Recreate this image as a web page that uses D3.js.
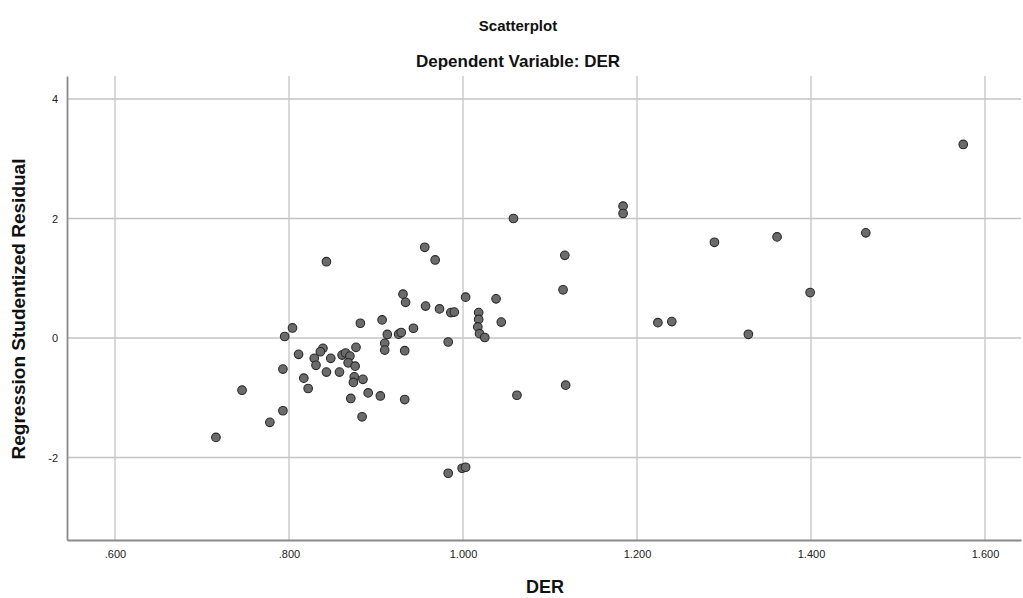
<!DOCTYPE html>
<html>
<head>
<meta charset="utf-8">
<script src="https://cdn.jsdelivr.net/npm/d3@7"></script>
<style>
  body { margin: 0; background: #fff; }
  text { font-family: "Liberation Sans", Arial, sans-serif; }
</style>
</head>
<body>
<svg id="chart" width="1023" height="598"></svg>
<script>
var width = 1023,
    height = 598;

var chartTitle = "Scatterplot",
    chartSubtitle = "Dependent Variable: DER",
    xTitle = "DER",
    yTitle = "Regression Studentized Residual";

var xTicks = [0.6, 0.8, 1.0, 1.2, 1.4, 1.6];
var yTicks = [4, 2, 0, -2];

// DER (x) and studentized residual (y)
var derVals = [
  1.575, 1.184, 1.184, 1.058, 0.956, 0.968, 1.117, 1.289, 1.361, 1.463,
  1.399, 1.115, 1.224, 1.240, 1.328, 1.118, 1.062, 0.983, 0.999, 1.003,
  0.716, 0.746, 0.778, 0.793, 0.793, 0.804, 0.795, 0.843, 0.882, 0.907,
  0.913, 0.910, 0.910, 0.811, 0.839, 0.836, 0.829, 0.831, 0.848, 0.861,
  0.865, 0.870, 0.868, 0.876, 0.877, 0.843, 0.858, 0.875, 0.885, 0.874,
  0.817, 0.822, 0.891, 0.905, 0.871, 0.884, 0.933, 0.931, 0.934, 0.957,
  0.973, 0.986, 0.990, 1.003, 1.038, 1.018, 1.018, 1.017, 1.019, 1.025,
  1.044, 0.943, 0.926, 0.929, 0.933, 0.983
];
var residVals = [
  3.239, 2.207, 2.084, 2.000, 1.518, 1.306, 1.383, 1.602, 1.692, 1.760,
  0.761, 0.807, 0.257, 0.274, 0.062, -0.790, -0.958, -2.264, -2.180, -2.163,
  -1.664, -0.874, -1.412, -1.218, -0.521, 0.168, 0.025, 1.277, 0.247, 0.303,
  0.059, -0.089, -0.202, -0.274, -0.173, -0.230, -0.341, -0.457, -0.341, -0.286,
  -0.252, -0.303, -0.415, -0.471, -0.156, -0.571, -0.571, -0.650, -0.692, -0.743,
  -0.672, -0.845, -0.919, -0.970, -1.012, -1.319, -1.030, 0.734, 0.597, 0.534,
  0.487, 0.425, 0.434, 0.684, 0.655, 0.425, 0.311, 0.185, 0.072, 0.008,
  0.266, 0.163, 0.064, 0.092, -0.213, -0.067
];

var margin = {top: 76, right: 2, bottom: 58, left: 67};

var svg = d3.select("#chart");

var x = d3.scaleLinear()
    .domain([0.5448, 1.6414])
    .range([margin.left, width - margin.right]);

var y = d3.scaleLinear()
    .domain([-3.381, 4.385])
    .range([height - margin.bottom, margin.top]);

function fmtX(d) {
  var s = d3.format(".3f")(d);
  return s.charAt(0) == "0" ? s.slice(1) : s;
}

// gridlines
svg.append("g").selectAll("line")
  .data(xTicks)
  .enter().append("line")
    .attr("x1", function(d) { return x(d); })
    .attr("x2", function(d) { return x(d); })
    .attr("y1", margin.top)
    .attr("y2", height - margin.bottom)
    .attr("stroke", "#c4c4c4")
    .attr("stroke-width", 1.3);

svg.append("g").selectAll("line")
  .data(yTicks)
  .enter().append("line")
    .attr("x1", margin.left)
    .attr("x2", width - margin.right)
    .attr("y1", function(d) { return y(d); })
    .attr("y2", function(d) { return y(d); })
    .attr("stroke", "#c4c4c4")
    .attr("stroke-width", 1.3);

// axes (no tick marks, just labels)
var xAxis = d3.axisBottom(x).tickValues(xTicks).tickFormat(fmtX).tickSize(0).tickPadding(10);
var yAxis = d3.axisLeft(y).tickValues(yTicks).tickFormat(function(d) { return String(d); }).tickSize(0).tickPadding(9);

var gx = svg.append("g")
    .attr("transform", "translate(0," + (height - margin.bottom) + ")")
    .call(xAxis);
var gy = svg.append("g")
    .attr("transform", "translate(" + margin.left + ",0)")
    .call(yAxis);

[gx, gy].forEach(function(g) {
  g.select(".domain").attr("stroke", "#8a8a8a").attr("stroke-width", 1.8);
  g.selectAll("text")
    .attr("fill", "#222")
    .style("font-family", "'Liberation Sans', Arial, sans-serif")
    .style("font-size", "11px");
});

// points
svg.append("g").selectAll("circle")
  .data(derVals)
  .enter().append("circle")
    .attr("cx", function(d) { return x(d); })
    .attr("cy", function(d, i) { return y(residVals[i]); })
    .attr("r", 4.3)
    .attr("fill", "#6b6b6b")
    .attr("stroke", "#2a2a2a")
    .attr("stroke-width", 1.1);

// titles
svg.append("text")
  .attr("x", 518)
  .attr("y", 31)
  .attr("text-anchor", "middle")
  .style("font-size", "15px")
  .style("font-weight", "bold")
  .attr("fill", "#111")
  .text(chartTitle);

svg.append("text")
  .attr("x", 518)
  .attr("y", 67)
  .attr("text-anchor", "middle")
  .style("font-size", "17px")
  .style("font-weight", "bold")
  .attr("fill", "#111")
  .text(chartSubtitle);

svg.append("text")
  .attr("x", 545)
  .attr("y", 593)
  .attr("text-anchor", "middle")
  .style("font-size", "18px")
  .style("font-weight", "bold")
  .attr("fill", "#111")
  .text(xTitle);

svg.append("text")
  .attr("transform", "translate(25," + 309 + ") rotate(-90)")
  .attr("text-anchor", "middle")
  .style("font-size", "19px")
  .style("font-weight", "bold")
  .attr("fill", "#111")
  .text(yTitle);
</script>
</body>
</html>
